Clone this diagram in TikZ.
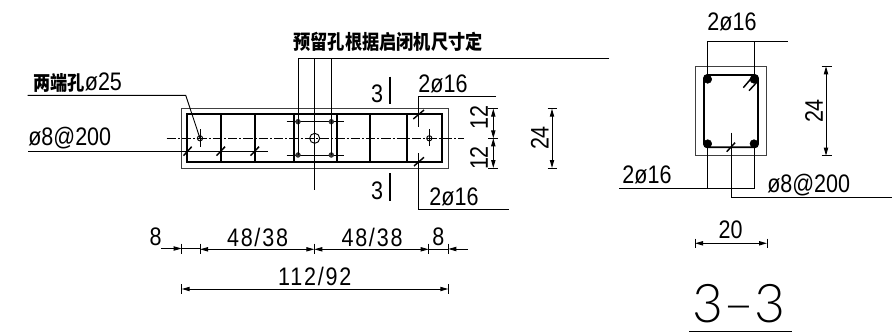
\documentclass[tikz,border=0pt]{standalone}
\usepackage{fontspec}
\setmainfont[FakeStretch=0.85]{Liberation Sans}
\newfontfamily\cjk[FakeStretch=0.86]{Noto Sans CJK SC}
\newfontfamily\thinfont{Lato Light}
\usetikzlibrary{arrows.meta}

\begin{document}
\begin{tikzpicture}
	[
		x=0.75pt, y=-0.75pt,
		line/.style={black,line width=0.7pt},
		concrete/.style={black!75,line width=0.65pt},
		rebar/.style={black,line width=1.4pt},
		slash/.style={black,line width=1.1pt},
		dimline/.style={black,line width=0.7pt},
		tip/.style={-{Stealth[length=6pt,width=3.2pt,inset=0pt]}},
		bothtips/.style={{Stealth[length=6pt,width=3.2pt,inset=0pt]}-{Stealth[length=6pt,width=3.2pt,inset=0pt]}},
		label/.style={inner sep=0pt,font=\fontsize{19pt}{20pt}\selectfont},
		widelabel/.style={inner sep=0pt,font=\fontsize{19pt}{20pt}\selectfont\addfontfeature{LetterSpace=7}},
		cjklabel/.style={inner sep=0pt,font=\cjk\bfseries\fontsize{15pt}{16pt}\selectfont}
	]
	\useasboundingbox (0,0) rectangle (892,332);

	% Draw beam outline and stirrups.
	\draw[concrete] (181.7,108.7) rectangle (448.3,168);
	\draw[rebar] (187,114.3) rectangle (442.3,162.3);
	\draw[rebar] (220.7,114.3) -- (220.7,162.3);
	\draw[rebar] (255,114.3) -- (255,162.3);
	\draw[rebar] (294,114.3) -- (294,162.3);
	\draw[rebar] (336.7,114.3) -- (336.7,162.3);
	\draw[rebar] (370,114.3) -- (370,162.3);
	\draw[rebar] (407,114.3) -- (407,162.3);

	% Draw center line.
	\draw[line,dash pattern=on 7pt off 1.5pt on 1.5pt off 1.5pt] (166.7,138.3) -- (464,138.3);

	% Draw holes.
	\draw[line] (200,138.3) circle (2.6);
	\draw[line] (200,129) -- (200,147);
	\draw[line] (429.3,138.3) circle (2.6);
	\draw[line] (429.3,129) -- (429.3,146);
	\draw[line] (314.7,138.3) circle (5);

	% Draw bolt holes with their leaders.
	\draw[line] (286.7,121.7) -- (344,121.7);
	\draw[line] (286.7,155) -- (344,155);
	\filldraw[black!80] (298,121.7) circle (2.4);
	\filldraw[black!80] (331.3,121.7) circle (2.4);
	\filldraw[black!80] (298,155) circle (2.4);
	\filldraw[black!80] (331.3,155) circle (2.4);
	\draw[line] (609.3,58.3) -- (298,58.3) -- (298,155);
	\draw[line] (331.3,58.3) -- (331.3,155);
	\draw[line] (314.7,58.3) -- (314.7,190);
	\node[cjklabel] (holetext) at (388,42) {预留孔根据启闭机尺寸定};

	% Draw left leaders.
	\draw[line] (27.7,95.3) -- (185.7,95.3) -- (200,138.3);
	\node[label,anchor=west] (endhole) at (33,83) {{\cjk\bfseries\fontsize{15pt}{16pt}\selectfont 两端孔}ø25};
	\draw[line] (28.3,151) -- (268.3,151);
	\draw[slash] (183.5,155.7) -- (191.7,146.7);
	\draw[slash] (216.5,155.7) -- (225,146.7);
	\draw[slash] (250.5,155.7) -- (259,146.7);
	\node[label,anchor=west] (stirrupleft) at (28,138) {ø8@200};

	% Draw section marks.
	\node[label] (secupper) at (377,94) {3};
	\draw[line,line width=0.8pt] (390,76.7) -- (390,104);
	\node[label] (seclower) at (377,190.5) {3};
	\draw[line,line width=0.8pt] (390,173.3) -- (390,200.7);

	% Draw right leaders.
	\draw[line] (496,96) -- (418.7,96) -- (418.7,126.7);
	\draw[slash] (413.3,119) -- (424,110);
	\node[label] (barupper) at (443,84) {2ø16};
	\draw[line] (508.7,209) -- (418.7,209) -- (418.7,153.3);
	\draw[slash] (414,166) -- (424,157.3);
	\node[label] (barlower) at (454,196.5) {2ø16};

	% Draw vertical dimensions.
	\draw[dimline,bothtips] (493.3,108.7) -- (493.3,138.3);
	\draw[dimline,bothtips] (493.3,138.3) -- (493.3,168);
	\draw[line] (488,108.7) -- (498,108.7);
	\draw[line] (488,138.3) -- (498,138.3);
	\draw[line] (488,168) -- (498,168);
	\node[label,rotate=90] (dimtwelveup) at (479,117.5) {12};
	\node[label,rotate=90] (dimtwelvelow) at (479,158) {12};
	\draw[dimline,bothtips] (552,108.7) -- (552,168);
	\draw[line] (547.5,108.7) -- (556.7,108.7);
	\draw[line] (547.5,168) -- (556.7,168);
	\node[label,rotate=90] (dimheight) at (539.7,138) {24};

	% Draw horizontal dimensions.
	\draw[line] (181.7,243.5) -- (181.7,254);
	\draw[line] (200,243.5) -- (200,254);
	\draw[line] (314.3,243.5) -- (314.3,254);
	\draw[line] (428.7,243.5) -- (428.7,254);
	\draw[line] (448.3,243.5) -- (448.3,254);
	\draw[dimline,tip] (161,248.5) -- (181.7,248.5);
	\draw[dimline] (181.7,248.5) -- (200,248.5);
	\draw[dimline,bothtips] (200,249.3) -- (314.3,249.3);
	\draw[dimline,bothtips] (314.3,249.3) -- (428.7,249.3);
	\draw[dimline] (428.7,249) -- (448.3,249);
	\draw[dimline,tip] (468,249) -- (448.3,249);
	\node[label] (dimend) at (155.7,236.5) {8};
	\node[widelabel] (dimleft) at (257.5,237.8) {48/38};
	\node[widelabel] (dimright) at (372,237.8) {48/38};
	\node[label] (dimendr) at (438.3,237) {8};
	\draw[dimline,bothtips] (181.7,289) -- (448.3,289);
	\draw[line] (181.7,284) -- (181.7,294);
	\draw[line] (448.3,284) -- (448.3,294);
	\node[widelabel] (dimtotal) at (314.8,276.7) {112/92};

	% Draw section outline.
	\draw[concrete] (695,66.3) rectangle (766.3,155.7);
	\draw[rebar,rounded corners=2.5pt] (704,75) rectangle (758,147.3);
	\filldraw[black] (707.7,79.3) circle (4);
	\filldraw[black] (754,79.3) circle (4);
	\filldraw[black] (707.7,143.7) circle (4);
	\filldraw[black] (754,143.7) circle (4);

	% Draw section leaders.
	\draw[line] (787.7,41.7) -- (707.7,41.7) -- (707.7,79.3);
	\draw[line] (754,41.7) -- (754,79.3);
	\draw[slash] (743.3,87.7) -- (753.3,76);
	\draw[slash] (749,90.7) -- (757.3,81.7);
	\node[label] (bartop) at (732,22) {2ø16};
	\draw[line] (619,188) -- (754,188) -- (754,143.7);
	\draw[line] (707.7,188) -- (707.7,143.7);
	\node[label] (barbottom) at (647,175) {2ø16};
	\draw[line] (731,132.7) -- (731,197.3) -- (892,197.3);
	\draw[slash] (726.7,151.7) -- (735,142.7);
	\node[label] (stirrupright) at (808.7,185) {ø8@200};

	% Draw section dimensions.
	\draw[dimline,bothtips] (826,66.3) -- (826,155.7);
	\draw[line] (821.7,66.3) -- (831.7,66.3);
	\draw[line] (821.7,155.7) -- (831.7,155.7);
	\node[label,rotate=90] (secheight) at (814,111) {24};
	\draw[dimline,bothtips] (695,243.3) -- (767,243.3);
	\draw[line] (695,238.5) -- (695,248);
	\draw[line] (767,238.5) -- (767,248);
	\node[label] (secwidth) at (730.7,230) {20};

	% Draw section title.
	\node[inner sep=0pt,font=\thinfont\fontsize{40pt}{42pt}\selectfont] (title) at (739,303.5) {3–3};
	\draw[line] (689,331.7) -- (791.7,331.7);
\end{tikzpicture}
\end{document}
